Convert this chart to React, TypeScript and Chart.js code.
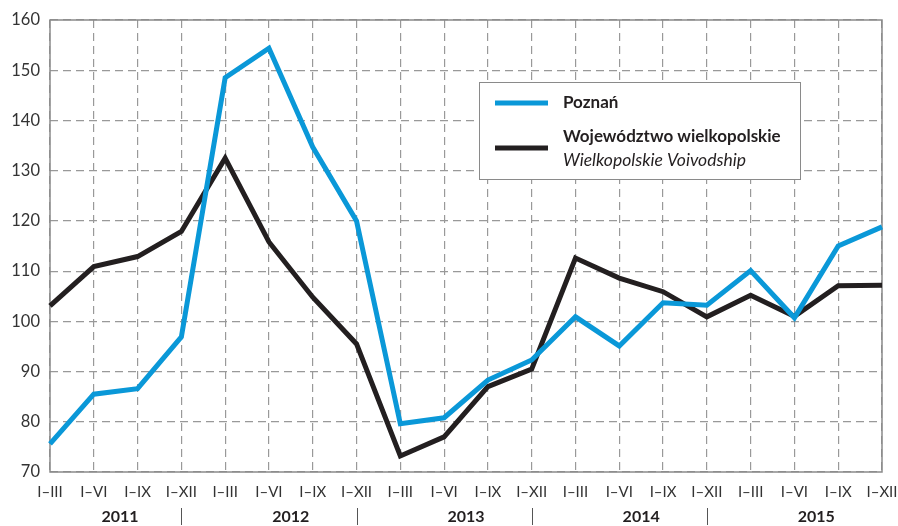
import React, { useEffect, useRef } from "react";
import { Chart, registerables } from "chart.js";

Chart.register(...registerables);

const categories = [
  "I–III", "I–VI", "I–IX", "I–XII",
  "I–III", "I–VI", "I–IX", "I–XII",
  "I–III", "I–VI", "I–IX", "I–XII",
  "I–III", "I–VI", "I–IX", "I–XII",
  "I–III", "I–VI", "I–IX", "I–XII",
];
const years = ["2011", "2012", "2013", "2014", "2015"];
const yearCenters = [1.6, 5.5, 9.5, 13.5, 17.5];
const yearSeparators = [3, 7, 11, 15];

const poznan = [
  75.6, 85.5, 86.6, 96.9,
  148.5, 154.4, 134.7, 120.0,
  79.6, 80.8, 88.3, 92.3,
  100.9, 95.1, 103.7, 103.2,
  110.1, 100.7, 115.0, 118.8,
];
const wojewodztwo = [
  103.1, 110.9, 112.9, 117.9,
  132.5, 115.8, 104.8, 95.5,
  73.2, 77.0, 87.0, 90.5,
  112.6, 108.6, 105.9, 100.9,
  105.2, 101.0, 107.1, 107.2,
];

const legendLabels = {
  poznan: "Poznań",
  woj: "Województwo wielkopolskie",
  wojEn: "Wielkopolskie Voivodship",
};

const BLUE = "#0a98d8";
const BLACK = "#231f20";
const FONT = "Lato, 'Open Sans', sans-serif";

const framePlugin = {
  id: "framePlugin",
  beforeDatasetsDraw(chart: any) {
    const { ctx, chartArea } = chart;
    ctx.save();
    ctx.strokeStyle = "#8a8a8a";
    ctx.lineWidth = 1.5;
    ctx.setLineDash([]);
    ctx.strokeRect(chartArea.left, chartArea.top, chartArea.right - chartArea.left, chartArea.bottom - chartArea.top);
    ctx.restore();
  },
  afterDraw(chart: any) {
    const { ctx } = chart;
    const x = chart.scales.x;
    ctx.save();
    // year labels
    ctx.fillStyle = "#231f20";
    ctx.font = `bold 16px ${FONT}`;
    ctx.textAlign = "center";
    ctx.textBaseline = "middle";
    years.forEach((y, i) => {
      ctx.fillText(y, x.getPixelForValue(yearCenters[i]), 517);
    });
    ctx.strokeStyle = "#555";
    ctx.lineWidth = 1;
    yearSeparators.forEach((idx) => {
      const px = Math.round(x.getPixelForValue(idx)) + 0.5;
      ctx.beginPath();
      ctx.moveTo(px, 508);
      ctx.lineTo(px, 525);
      ctx.stroke();
    });
    // legend box
    ctx.fillStyle = "#ffffff";
    ctx.fillRect(479, 82, 321, 97);
    ctx.strokeStyle = "#8a8a8a";
    ctx.lineWidth = 1;
    ctx.strokeRect(479.5, 82.5, 321, 97);
    ctx.lineWidth = 5;
    ctx.strokeStyle = BLUE;
    ctx.beginPath();
    ctx.moveTo(495, 103);
    ctx.lineTo(548, 103);
    ctx.stroke();
    ctx.strokeStyle = BLACK;
    ctx.beginPath();
    ctx.moveTo(495, 148);
    ctx.lineTo(548, 148);
    ctx.stroke();
    ctx.fillStyle = "#231f20";
    ctx.textAlign = "left";
    ctx.font = `bold 17px ${FONT}`;
    ctx.fillText(legendLabels.poznan, 563, 103);
    ctx.fillText(legendLabels.woj, 563, 137);
    ctx.font = `italic 17.5px ${FONT}`;
    ctx.fillText(legendLabels.wojEn, 563, 160);
    ctx.restore();
  },
};

export default function App() {
  const ref = useRef<HTMLCanvasElement | null>(null);
  useEffect(() => {
    if (!ref.current) return;
    const chart = new Chart(ref.current, {
      type: "line",
      data: {
        labels: categories,
        datasets: [
          {
            label: legendLabels.poznan,
            data: poznan,
            borderColor: BLUE,
            backgroundColor: BLUE,
            borderWidth: 5,
            pointRadius: 0,
            tension: 0,
            borderJoinStyle: "miter",
          },
          {
            label: legendLabels.woj,
            data: wojewodztwo,
            borderColor: BLACK,
            backgroundColor: BLACK,
            borderWidth: 5,
            pointRadius: 0,
            tension: 0,
            borderJoinStyle: "miter",
          },
        ],
      },
      options: {
        animation: false,
        responsive: false,
        maintainAspectRatio: false,
        layout: { padding: { top: 20, right: 16, left: 0, bottom: 0 } },
        plugins: { legend: { display: false }, tooltip: { enabled: false } },
        scales: {
          x: {
            type: "category",
            offset: false,
            border: { display: false, dash: [8, 5] },
            grid: { color: "#999", lineWidth: 1.2, drawTicks: false },
            ticks: {
              color: "#333",
              font: { family: FONT, size: 15 },
              padding: 11,
              maxRotation: 0,
              autoSkip: false,
            },
            afterFit: (s: any) => {
              s.height = 54;
              s.paddingLeft = 0;
              s.paddingRight = 0;
            },
          },
          y: {
            min: 70,
            max: 160,
            border: { display: false, dash: [8, 5] },
            grid: { color: "#999", lineWidth: 1.2, drawTicks: false },
            ticks: {
              stepSize: 10,
              color: "#333",
              font: { family: FONT, size: 16.5 },
              padding: 10,
            },
            afterFit: (s: any) => {
              s.width = 50;
              s.paddingTop = 0;
              s.paddingBottom = 0;
            },
          },
        },
      },
      plugins: [framePlugin],
    });
    return () => chart.destroy();
  }, []);
  return (
    <div style={{ position: "absolute", left: 0, top: 0, width: 898, height: 526 }}>
      <canvas ref={ref} width={898} height={526} style={{ width: 898, height: 526 }} />
    </div>
  );
}
